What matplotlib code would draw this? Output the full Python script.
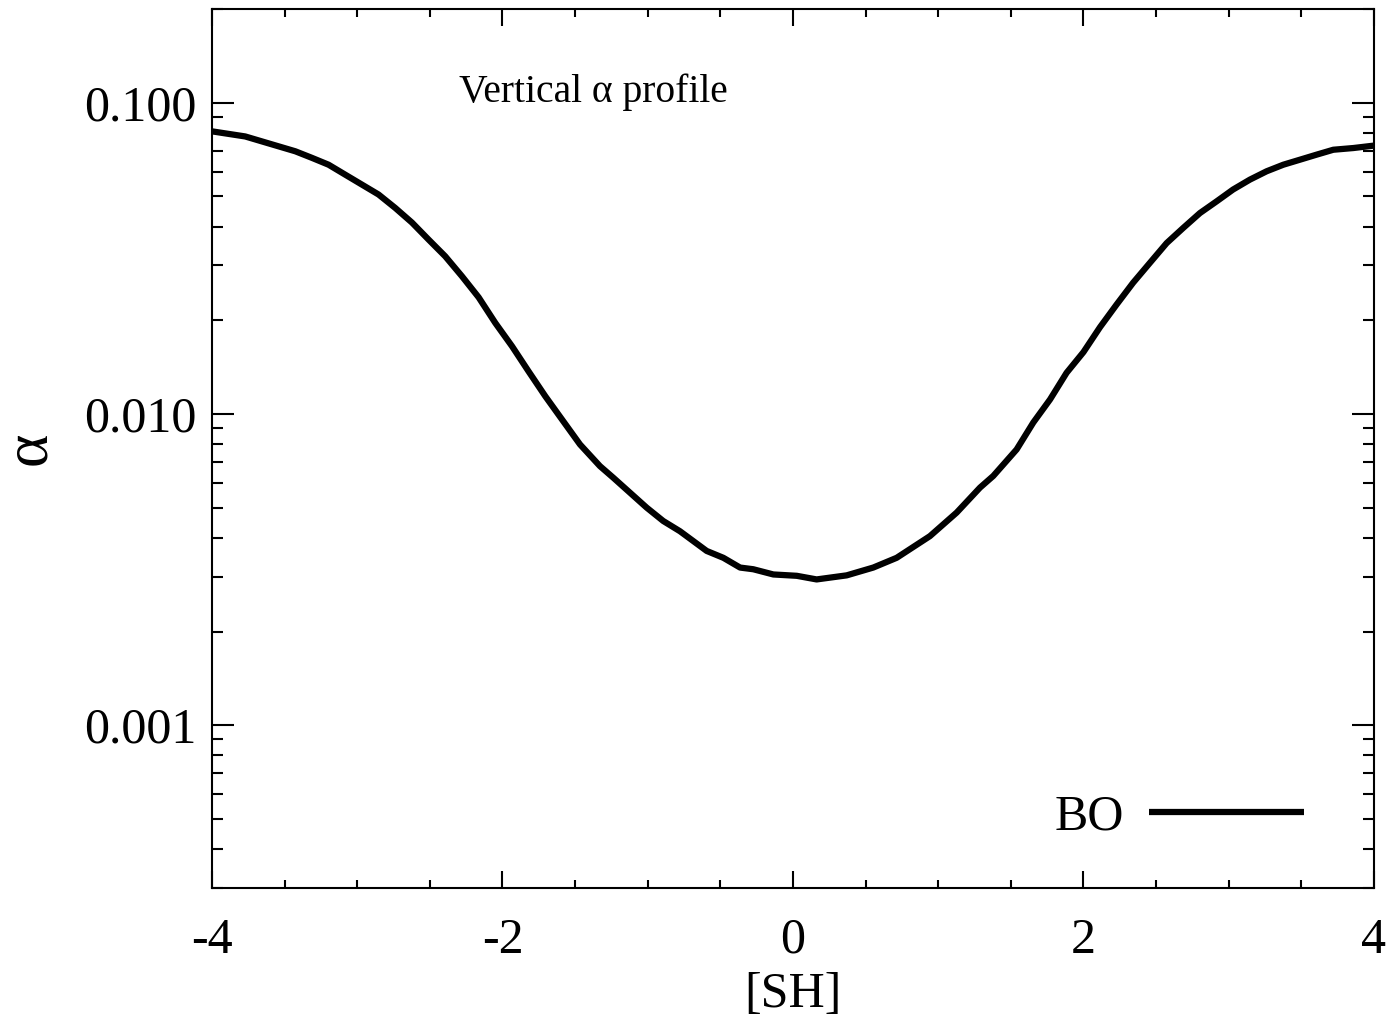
import numpy as np
import matplotlib
matplotlib.use('Agg')
import matplotlib.pyplot as plt
from matplotlib.ticker import MultipleLocator, LogLocator, NullFormatter, FixedLocator

plt.rcParams['font.family'] = ['Liberation Serif', 'DejaVu Serif']

# Vertical alpha profile
height_sh = [-4.0, -3.771, -3.656, -3.541, -3.426, -3.312, -3.197, -3.082,
             -2.853, -2.738, -2.623, -2.508, -2.394, -2.279, -2.164, -2.049,
             -1.934, -1.820, -1.705, -1.590, -1.466, -1.329, -1.237, -1.007,
             -0.893, -0.778, -0.594, -0.479, -0.364, -0.273, -0.135, 0.026,
             0.163, 0.370, 0.553, 0.714, 0.943, 1.127, 1.288, 1.379,
             1.540, 1.655, 1.770, 1.884, 2.000, 2.114, 2.228, 2.342,
             2.458, 2.573, 2.687, 2.802, 2.917, 3.030, 3.146, 3.261,
             3.376, 3.491, 3.606, 3.720, 3.858, 4.0]
alpha_bo = [0.0809, 0.0779, 0.0751, 0.0724, 0.0698, 0.0665, 0.0632, 0.0587,
            0.0507, 0.0459, 0.0412, 0.0363, 0.0321, 0.0277, 0.0237, 0.0196,
            0.0165, 0.0137, 0.0114, 0.0096, 0.00798, 0.0068, 0.00624, 0.00500,
            0.00453, 0.00420, 0.00363, 0.00345, 0.00321, 0.00317, 0.00305, 0.00302,
            0.00294, 0.00303, 0.00321, 0.00345, 0.00405, 0.00482, 0.00580, 0.00632,
            0.00769, 0.00939, 0.01113, 0.01356, 0.0158, 0.0190, 0.02246, 0.0264,
            0.0306, 0.0354, 0.0396, 0.0442, 0.0482, 0.0526, 0.0566, 0.0602,
            0.0632, 0.0656, 0.0681, 0.0706, 0.0715, 0.0728]

y_ticks = [0.001, 0.01, 0.1]
y_tick_labels = ['0.001', '0.010', '0.100']
x_ticks = [-4, -2, 0, 2, 4]

fig = plt.figure(figsize=(13.98, 10.21), dpi=100)
ax = fig.add_axes([0.1516, 0.1303, 0.8312, 0.8609])

ax.plot(height_sh, alpha_bo, color='black', lw=4.5, label='BO',
        solid_joinstyle='round', solid_capstyle='butt')

ax.set_yscale('log')
ax.set_xlim(-4, 4)
ax.set_ylim(3e-4, 0.2)

ax.xaxis.set_major_locator(FixedLocator(x_ticks))
ax.xaxis.set_minor_locator(MultipleLocator(0.5))
ax.set_xticklabels([str(t) for t in x_ticks])
ax.yaxis.set_major_locator(FixedLocator(y_ticks))
ax.set_yticklabels(y_tick_labels)
ax.yaxis.set_minor_locator(LogLocator(base=10, subs=np.arange(2, 10)))
ax.yaxis.set_minor_formatter(NullFormatter())

ax.tick_params(which='both', direction='in', top=True, right=True, width=1.5,
               labelsize=36)
ax.tick_params(axis='x', which='major', length=12, pad=21)
ax.tick_params(axis='x', which='minor', length=6)
ax.tick_params(axis='y', which='major', length=16, pad=11)
ax.tick_params(axis='y', which='minor', length=8)
for s in ax.spines.values():
    s.set_linewidth(1.5)

ax.set_xlabel('[SH]', fontsize=36, labelpad=6)
ax.set_ylabel('α', fontsize=46, labelpad=18)

ax.text(0.213, 0.905, 'Vertical α profile', transform=ax.transAxes,
        fontsize=28.5, ha='left', va='center')

leg = ax.legend(loc='lower right', frameon=False, fontsize=36,
                markerfirst=False, handlelength=3.1, handletextpad=0.5,
                bbox_to_anchor=(0.957, 0.031), borderaxespad=0)

fig.savefig('out.png', dpi=100)
